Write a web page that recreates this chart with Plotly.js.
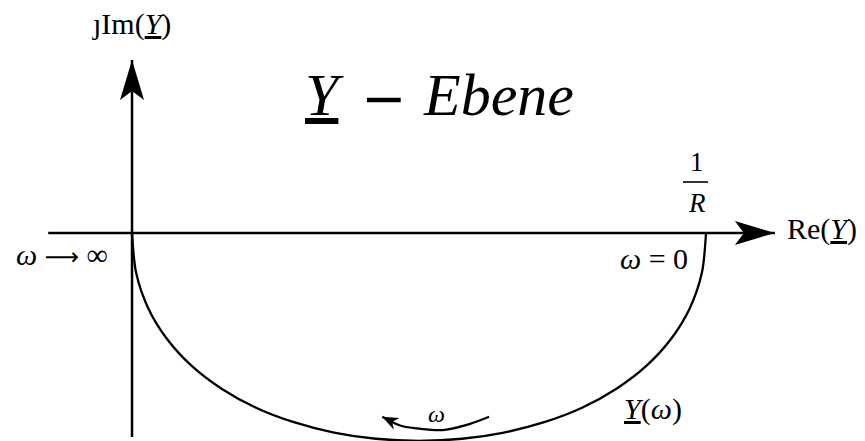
<!DOCTYPE html>
<html>
<head>
<meta charset="utf-8">
<script src="https://cdn.plot.ly/plotly-3.0.1.min.js"></script>
<style>
  html, body { margin: 0; padding: 0; background: #fff; }
  #plot { width: 865px; height: 441px; }
</style>
</head>
<body>
<div id="plot"></div>
<script>
// Admittance locus Y(ω) of an R-L series branch in the complex plane.
// Re axis in units of 1/R, Im axis in the same units.

// Axis extents (start, arrow tip)
const reAxis = [-0.146, 1.120];
const imAxis = [-0.493, 0.418];

// Locus points of Y(ω), from ω → ∞ (origin) to ω = 0 (1/R)
const locusRe = [0.000, 0.007, 0.028, 0.061, 0.104, 0.156, 0.216, 0.282, 0.352, 0.425, 0.500,
                 0.575, 0.648, 0.718, 0.784, 0.844, 0.896, 0.939, 0.972, 0.993, 1.000];
const locusIm = [0.000, -0.095, -0.181, -0.256, -0.321, -0.376, -0.422, -0.457, -0.482, -0.497, -0.502,
                 -0.497, -0.482, -0.457, -0.422, -0.376, -0.321, -0.256, -0.181, -0.095, 0.000];

// Small arrow indicating the direction of increasing ω
const omegaRe = [0.622, 0.589, 0.542, 0.497, 0.467, 0.436];
const omegaIm = [-0.444, -0.461, -0.476, -0.472, -0.465, -0.444];

// Point 1/R on the real axis
const conductance = 1.0;

const W = 865, H = 441;
const xRange = [-0.230, 1.277];
const yRange = [-0.5024, 0.5628];
const sx = W / (xRange[1] - xRange[0]);   // px per unit (x)
const sy = H / (yRange[1] - yRange[0]);   // px per unit (y)

const black = '#000000';
const serif = 'Liberation Serif, Times New Roman, serif';
const sym = (s, size) => `<span style="font-family:DejaVu Sans${size ? ';font-size:' + size + 'px' : ''}">${s}</span>`;

// Filled "stealth" arrowhead as a pixel-sized path anchored at the tip,
// pointing along the pixel direction (dx, dy) with y pointing up.
function arrowHead(xTip, yTip, dx, dy, len, half, notch) {
  const n = Math.hypot(dx, dy);
  const ux = dx / n, uy = dy / n;       // along
  const vx = -uy, vy = ux;              // across
  const pt = (a, b) => [(a * ux + b * vx).toFixed(2), (a * uy + b * vy).toFixed(2)];
  const p1 = pt(-len, half), p2 = pt(-notch, 0), p3 = pt(-len, -half);
  return {
    type: 'path', xref: 'x', yref: 'y',
    xsizemode: 'pixel', ysizemode: 'pixel',
    xanchor: xTip, yanchor: yTip,
    path: `M0,0 L${p1[0]},${p1[1]} L${p2[0]},${p2[1]} L${p3[0]},${p3[1]} Z`,
    fillcolor: black, line: {width: 0}, layer: 'above'
  };
}

const lineStyle = {color: black, width: 2.5};

const traces = [
  {x: reAxis, y: [0, 0], mode: 'lines', line: lineStyle, hoverinfo: 'skip'},
  {x: [0, 0], y: imAxis, mode: 'lines', line: lineStyle, hoverinfo: 'skip'},
  {x: locusRe, y: locusIm, mode: 'lines', line: {color: black, width: 2.3, shape: 'spline', smoothing: 0.8},
   hoverinfo: 'skip'},
  {x: omegaRe, y: omegaIm, mode: 'lines', line: {color: black, width: 2.2, shape: 'spline', smoothing: 1},
   hoverinfo: 'skip'}
];

const nO = omegaRe.length;
const shapes = [
  arrowHead(reAxis[1], 0, 1, 0, 40, 12, 31),
  arrowHead(0, imAxis[1], 0, 1, 40, 12, 31),
  arrowHead(omegaRe[nO - 1], omegaIm[nO - 1],
            (omegaRe[nO - 1] - omegaRe[nO - 2]) * sx,
            (omegaIm[nO - 1] - omegaIm[nO - 2]) * sy, 16, 6.5, 11),
  // fraction bar of 1/R
  {type: 'line', xref: 'x', yref: 'y', xsizemode: 'pixel', ysizemode: 'pixel',
   xanchor: conductance, yanchor: 0, x0: -23, x1: 2, y0: 51, y1: 51,
   line: {color: black, width: 1.6}}
];

// Label placed by pixel position in the figure
function label(text, px, py, size) {
  return {
    text: text, xref: 'paper', yref: 'paper', x: px / W, y: 1 - py / H,
    xanchor: 'center', yanchor: 'middle', showarrow: false,
    font: {family: serif, size: size, color: black}
  };
}

const annotations = [
  label('<u><i>Y</i></u>', 324, 95, 60),
  label(sym('\u2212'), 383, 98, 54),
  label('<i>Ebene</i>', 498, 95, 60),
  label('\u0237Im(<u><i>Y</i></u>)', 131, 24, 30),
  label('Re(<u><i>Y</i></u>)', 822, 229, 30),
  label('<i>\u03c9</i> ' + sym('\u27f6', 24) + ' \u221e', 62, 254, 30),
  label('<i>\u03c9</i> = 0', 654, 258, 30),
  label('1', 697, 162, 27),
  label('<i>R</i>', 697, 203, 27),
  label('<u><i>Y</i></u>(<i>\u03c9</i>)', 653, 409, 30),
  label('<i>\u03c9</i>', 436, 414, 24)
];

const layout = {
  width: W, height: H,
  margin: {l: 0, r: 0, t: 0, b: 0},
  paper_bgcolor: '#ffffff', plot_bgcolor: '#ffffff',
  showlegend: false,
  xaxis: {range: xRange, visible: false, fixedrange: true},
  yaxis: {range: yRange, visible: false, fixedrange: true},
  shapes: shapes,
  annotations: annotations
};

Plotly.newPlot('plot', traces, layout, {displayModeBar: false, staticPlot: true});
</script>
</body>
</html>
